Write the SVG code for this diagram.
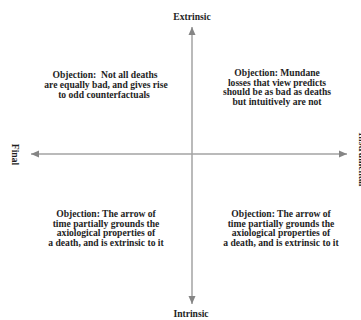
<svg xmlns="http://www.w3.org/2000/svg" width="361" height="320" viewBox="0 0 361 320">
  <style>
    .t { font-family: "Liberation Serif", "DejaVu Serif", serif; font-size: 9.6px; font-weight: bold; fill: #1e1e1e; text-anchor: middle; white-space: pre; }
    .ax { stroke: #a3a3a3; stroke-width: 1.5; fill: none; }
  </style>
  <defs>
    <marker id="ah" markerUnits="userSpaceOnUse" markerWidth="9" markerHeight="8" refX="8" refY="4" orient="auto-start-reverse" viewBox="0 0 9 8">
      <path d="M0,0.5 L8,4 L0,7.5 z" fill="#858585"/>
    </marker>
  </defs>
  <rect width="361" height="320" fill="#ffffff"/>
  <g id="connectors">
    <line class="ax" x1="192" y1="27" x2="192" y2="304" marker-start="url(#ah)" marker-end="url(#ah)"/>
    <line class="ax" x1="31" y1="154" x2="347" y2="154" marker-start="url(#ah)" marker-end="url(#ah)"/>
  </g>
  <g id="label-extrinsic"><text class="t" x="192" y="20">Extrinsic</text></g>
  <g id="label-intrinsic"><text class="t" x="191" y="317">Intrinsic</text></g>
  <g id="label-final"><text class="t" transform="translate(12,154.5) rotate(90)" x="0" y="0">Final</text></g>
  <g id="label-instrumental"><text class="t" transform="translate(359,159.5) rotate(90)" x="0" y="0">Instrumental</text></g>
  <g id="quadrant-top-left">
    <text class="t" x="105" y="78">Objection:  Not all deaths</text>
    <text class="t" x="106" y="88">are equally bad, and gives rise</text>
    <text class="t" x="104" y="98">to odd counterfactuals</text>
  </g>
  <g id="quadrant-top-right">
    <text class="t" x="277" y="76">Objection: Mundane</text>
    <text class="t" x="277" y="85.5">losses that view predicts</text>
    <text class="t" x="277" y="95">should be as bad as deaths</text>
    <text class="t" x="277" y="104.5">but intuitively are not</text>
  </g>
  <g id="quadrant-bottom-left">
    <text class="t" x="106" y="217">Objection: The arrow of</text>
    <text class="t" x="106" y="226.5">time partially grounds the</text>
    <text class="t" x="106" y="236">axiological properties of</text>
    <text class="t" x="106" y="245.5">a death, and is extrinsic to it</text>
  </g>
  <g id="quadrant-bottom-right">
    <text class="t" x="281" y="217">Objection: The arrow of</text>
    <text class="t" x="281" y="226.5">time partially grounds the</text>
    <text class="t" x="281" y="236">axiological properties of</text>
    <text class="t" x="281" y="245.5">a death, and is extrinsic to it</text>
  </g>
</svg>
